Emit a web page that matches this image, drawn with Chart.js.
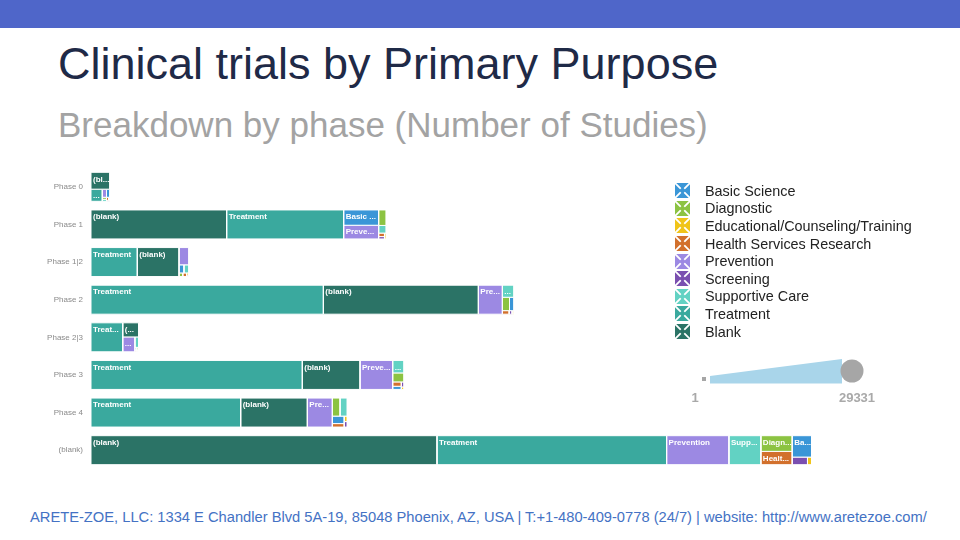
<!DOCTYPE html>
<html>
<head>
<meta charset="utf-8">
<script src="https://cdn.jsdelivr.net/npm/chart.js@4.4.1/dist/chart.umd.min.js"></script>
<style>
html,body{margin:0;padding:0;background:#fff;}
body{width:960px;height:540px;position:relative;overflow:hidden;font-family:"Liberation Sans",Arial,sans-serif;}
#band{position:absolute;left:0;top:0;width:960px;height:28px;background:#4F66C9;}
#title{position:absolute;left:58px;top:41px;font-size:45px;line-height:45px;color:#1F2A47;white-space:nowrap;}
#subtitle{position:absolute;left:58px;top:107px;font-size:35px;line-height:35px;color:#A3A3A3;white-space:nowrap;}
#footer{position:absolute;left:30px;top:510px;font-size:14.7px;line-height:14px;color:#4472C4;white-space:nowrap;}
#chartBox{position:absolute;left:0;top:168px;width:840px;height:301px;}
#legend{position:absolute;left:675px;top:182px;z-index:3;}
.li{height:17.6px;display:flex;align-items:center;font-size:14.4px;color:#222;white-space:nowrap;}
.li svg{width:15px;height:15px;margin-right:15px;flex:none;}
#sizeLegend{position:absolute;left:0;top:0;z-index:3;pointer-events:none;}
</style>
</head>
<body>
<div id="band"></div>
<div id="title">Clinical trials by Primary Purpose</div>
<div id="subtitle">Breakdown by phase (Number of Studies)</div>
<div id="chartBox"><canvas id="c"></canvas></div>
<div id="legend"></div>
<svg id="sizeLegend" width="960" height="540" viewBox="0 0 960 540">
  <polygon points="710,376 842,359 842,383.5 710,383.5" fill="#A9D5EA"/>
  <rect x="702" y="377" width="4" height="4" fill="#A6A6A6"/>
  <circle cx="852" cy="371" r="11.5" fill="#A6A6A6"/>
  <text x="695" y="402" font-size="13" font-weight="bold" fill="#A9A9A9" text-anchor="middle" font-family="Liberation Sans, Arial, sans-serif">1</text>
  <text x="857" y="402" font-size="13" font-weight="bold" fill="#A9A9A9" text-anchor="middle" font-family="Liberation Sans, Arial, sans-serif">29331</text>
</svg>
<div id="footer">ARETE-ZOE, LLC: 1334 E Chandler Blvd 5A-19, 85048 Phoenix, AZ, USA | T:+1-480-409-0778 (24/7) | website: http://www.aretezoe.com/</div>

<script>
// ---- data ----
const phases = ['Phase 0','Phase 1','Phase 1|2','Phase 2','Phase 2|3','Phase 3','Phase 4','(blank)'];
const purposes = ['Basic Science','Diagnostic','Educational/Counseling/Training','Health Services Research','Prevention','Screening','Supportive Care','Treatment','Blank'];
const basicScience   = [80, 1565, 117, 175, 15, 80, 260, 1210];
const diagnostic     = [25, 345, 40, 280, 15, 300, 405, 1435];
const educational    = [10, 30, 15, 20, 5, 20, 50, 90];
const healthServices = [20, 60, 40, 70, 10, 110, 120, 1220];
const prevention     = [100, 1400, 500, 2035, 530, 2770, 2120, 5280];
const screening      = [10, 40, 10, 30, 5, 40, 50, 340];
const supportiveCare = [25, 170, 117, 410, 117, 415, 385, 2710];
const treatment      = [400, 9920, 3925, 19700, 2690, 17915, 12690, 19470];
const blank          = [930, 11500, 3535, 13140, 660, 4890, 5650, 29331];
const sizeLegendRange = [1, 29331];

// ---- styles ----
const seriesValues = [basicScience, diagnostic, educational, healthServices, prevention, screening, supportiveCare, treatment, blank];
const colors = ['#3A96D7','#8CC342','#F0C419','#D2702C','#9C89E3','#7A4FB0','#62D2C3','#3AA99E','#2B7366'];
const XMAX = 63500;
const BAR_FRAC = 0.77;

// legend
const legendEl = document.getElementById('legend');
purposes.forEach((p, i) => {
  const c = colors[i];
  const d = document.createElement('div');
  d.className = 'li';
  d.innerHTML = '<svg viewBox="0 0 15 15"><rect width="15" height="15" fill="' + c + '"/>' +
    '<path d="M0 0L15 15M15 0L0 15" stroke="#fff" stroke-width="1.8"/>' +
    '<path d="M7.5 4L11 7.5L7.5 11L4 7.5Z" fill="' + c + '"/></svg><span>' + p + '</span>';
  legendEl.appendChild(d);
});

// d3-style squarified treemap (golden ratio)
const PHI = (1 + Math.sqrt(5)) / 2;
function squarify(nodes, x0, y0, x1, y1) {
  const out = [];
  let i0 = 0, i1 = 0;
  const n = nodes.length;
  let value = nodes.reduce((s, d) => s + d.value, 0);
  while (i0 < n) {
    const dx = x1 - x0, dy = y1 - y0;
    let sumValue;
    do sumValue = nodes[i1++].value; while (!sumValue && i1 < n);
    let minValue = sumValue, maxValue = sumValue;
    const alpha = Math.max(dy / dx, dx / dy) / (value * PHI);
    let beta = sumValue * sumValue * alpha;
    let minRatio = Math.max(maxValue / beta, beta / minValue);
    for (; i1 < n; ++i1) {
      const nv = nodes[i1].value;
      sumValue += nv;
      if (nv < minValue) minValue = nv;
      if (nv > maxValue) maxValue = nv;
      beta = sumValue * sumValue * alpha;
      const newRatio = Math.max(maxValue / beta, beta / minValue);
      if (newRatio > minRatio) { sumValue -= nv; break; }
      minRatio = newRatio;
    }
    const row = nodes.slice(i0, i1);
    if (dx < dy) {
      const ny = dy ? y0 + dy * sumValue / value : y1;
      let x = x0;
      const k = sumValue ? (x1 - x0) / sumValue : 0;
      row.forEach(nd => { const nx = x + nd.value * k; out.push({node: nd, x0: x, y0: y0, x1: nx, y1: ny}); x = nx; });
      y0 = ny;
    } else {
      const nx = dx ? x0 + dx * sumValue / value : x1;
      let y = y0;
      const k = sumValue ? (y1 - y0) / sumValue : 0;
      row.forEach(nd => { const ny = y + nd.value * k; out.push({node: nd, x0: x0, y0: y, x1: nx, y1: ny}); y = ny; });
      x0 = nx;
    }
    value -= sumValue; i0 = i1;
  }
  return out;
}

function buildCells(kx, ky) {
  const cells = [];
  phases.forEach((ph, r) => {
    const nodes = purposes.map((p, i) => ({i, value: seriesValues[i][r]}))
      .filter(nd => nd.value > 0)
      .sort((a, b) => b.value - a.value);
    const total = nodes.reduce((s, nd) => s + nd.value, 0);
    const rects = squarify(nodes, 0, (r - BAR_FRAC / 2) * ky, total * kx, (r + BAR_FRAC / 2) * ky);
    rects.forEach(rc => {
      const a = rc.x0 / kx, b = rc.x1 / kx, t = rc.y0 / ky, u = rc.y1 / ky;
      const pi = rc.node.i;
      cells.push({
        label: purposes[pi] + ' / ' + ph,
        cellLabel: purposes[pi] === 'Blank' ? '(blank)' : purposes[pi],
        data: [{x: a, y: t}, {x: b, y: t}, {x: b, y: u}, {x: a, y: u}, {x: a, y: t}],
        fill: 'shape',
        backgroundColor: colors[pi],
        borderColor: '#ffffff',
        borderWidth: 1,
        pointRadius: 0,
        pointHoverRadius: 0,
        tension: 0,
        borderJoinStyle: 'miter'
      });
    });
  });
  return cells;
}

const cellLabelPlugin = {
  id: 'cellLabels',
  afterDatasetsDraw(chart) {
    const {ctx, scales: {x, y}} = chart;
    ctx.save();
    ctx.font = 'bold 8px "Liberation Sans", Arial, sans-serif';
    ctx.fillStyle = '#ffffff';
    ctx.textBaseline = 'top';
    ctx.textAlign = 'left';
    chart.data.datasets.forEach(ds => {
      const p = ds.data;
      const left = x.getPixelForValue(p[0].x), right = x.getPixelForValue(p[1].x);
      const top = y.getPixelForValue(p[0].y), bottom = y.getPixelForValue(p[2].y);
      const w = right - left, h = bottom - top;
      if (h < 11 || w < 11) return;
      const avail = w - 2;
      let t = ds.cellLabel;
      if (ctx.measureText(t).width > avail) {
        let i = t.length;
        while (i > 0 && ctx.measureText(t.slice(0, i) + '...').width > avail) i--;
        t = t.slice(0, i) + '...';
        if (ctx.measureText(t).width > avail) return;
      }
      ctx.fillText(t, left + 2, top + 3);
    });
    ctx.restore();
  }
};

const chart = new Chart(document.getElementById('c'), {
  type: 'line',
  data: {datasets: []},
  options: {
    responsive: true,
    maintainAspectRatio: false,
    animation: false,
    events: [],
    layout: {padding: 0},
    plugins: {legend: {display: false}, tooltip: {enabled: false}},
    scales: {
      x: {type: 'linear', min: 0, max: XMAX, display: false},
      y: {
        type: 'linear', min: -0.5, max: phases.length - 0.5, reverse: true,
        grid: {display: false, drawTicks: false},
        border: {display: false},
        afterBuildTicks(s) { s.ticks = phases.map((_, i) => ({value: i})); },
        ticks: {
          callback: v => phases[v],
          color: '#8A8A8A',
          padding: 8,
          font: {size: 8, family: '"Liberation Sans", Arial, sans-serif'}
        },
        afterFit(s) { s.width = 91; s.paddingTop = 0; s.paddingBottom = 0; }
      }
    }
  },
  plugins: [cellLabelPlugin]
});

const xs = chart.scales.x, ys = chart.scales.y;
const kx = Math.abs(xs.getPixelForValue(XMAX) - xs.getPixelForValue(0)) / XMAX;
const ky = Math.abs(ys.getPixelForValue(1) - ys.getPixelForValue(0));
chart.data.datasets = buildCells(kx, ky);
chart.update('none');
</script>
</body>
</html>
